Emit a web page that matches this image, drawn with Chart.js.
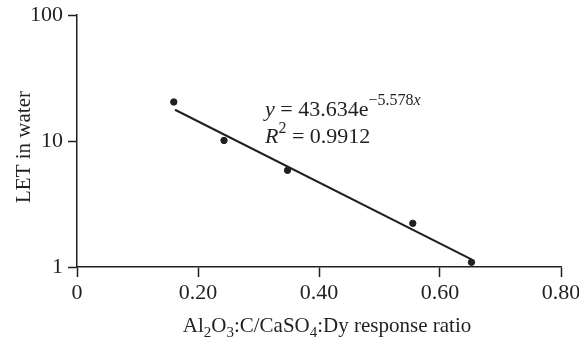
<!DOCTYPE html>
<html>
<head>
<meta charset="utf-8">
<script src="https://cdn.jsdelivr.net/npm/chart.js@4/dist/chart.umd.min.js"></script>
<style>
  html, body { margin: 0; padding: 0; background: #fff; }
  #wrap { width: 579px; height: 340px; }
</style>
</head>
<body>
<div id="wrap"><canvas id="letChart" width="579" height="340"></canvas></div>
<script>
// ==============================
// DATA
// ==============================
const ratioX = [0.160, 0.243, 0.348, 0.555, 0.652];
const letY = [20.4, 10.1, 5.85, 2.22, 1.09];

// fitted line end points (y = 43.634e^-5.578x)
const fitX = [0.162, 0.652];
const fitY = [17.7, 1.149];

const yTicks = [1, 10, 100];
const xTicks = [0, 0.2, 0.4, 0.6, 0.8];

const ink = '#231f20';
const serif = '"Liberation Serif", "DejaVu Serif", serif';

// ==============================
// TEXT PLUGIN (titles + equation)
// ==============================
function drawRuns(ctx, x, y, runs) {
    runs.forEach(r => {
        ctx.font = (r.italic ? 'italic ' : '') + r.size + 'px ' + serif;
        ctx.fillText(r.text, x, y + (r.dy || 0));
        x += ctx.measureText(r.text).width;
    });
    return x;
}

function runsWidth(ctx, runs) {
    let w = 0;
    runs.forEach(r => {
        ctx.font = (r.italic ? 'italic ' : '') + r.size + 'px ' + serif;
        w += ctx.measureText(r.text).width;
    });
    return w;
}

const textPlugin = {
    id: 'textPlugin',
    afterDraw(chart) {
        const ctx = chart.ctx;
        ctx.save();
        ctx.fillStyle = ink;
        ctx.textBaseline = 'alphabetic';
        ctx.textAlign = 'left';

        // equation
        drawRuns(ctx, 265, 116, [
            { text: 'y', italic: true, size: 22 },
            { text: ' = 43.634e', size: 22 },
            { text: '\u22125.578', size: 16, dy: -11 },
            { text: 'x', italic: true, size: 16, dy: -11 }
        ]);
        drawRuns(ctx, 265, 143, [
            { text: 'R', italic: true, size: 22 },
            { text: '2', size: 16, dy: -10 },
            { text: ' = 0.9912', size: 22 }
        ]);

        // x axis title with subscripts
        const xRuns = [
            { text: 'Al', size: 21 },
            { text: '2', size: 15, dy: 5 },
            { text: 'O', size: 21 },
            { text: '3', size: 15, dy: 5 },
            { text: ':C/CaSO', size: 21 },
            { text: '4', size: 15, dy: 5 },
            { text: ':Dy response ratio', size: 21 }
        ];
        const w = runsWidth(ctx, xRuns);
        drawRuns(ctx, 327 - w / 2, 332, xRuns);

        // y axis title
        ctx.translate(30, 147);
        ctx.rotate(-Math.PI / 2);
        ctx.textAlign = 'center';
        ctx.font = '21px ' + serif;
        ctx.fillText('LET in water', 0, 0);
        ctx.restore();
    }
};

// ==============================
// CHART
// ==============================
const ctx = document.getElementById('letChart').getContext('2d');

new Chart(ctx, {
    type: 'scatter',
    data: {
        datasets: [
            {
                label: 'LET',
                data: ratioX.map((x, i) => ({ x: x, y: letY[i] })),
                backgroundColor: ink,
                borderColor: ink,
                pointRadius: 3.2,
                pointHoverRadius: 3.2
            },
            {
                label: 'fit',
                type: 'line',
                data: fitX.map((x, i) => ({ x: x, y: fitY[i] })),
                borderColor: ink,
                borderWidth: 2,
                pointRadius: 0,
                fill: false
            }
        ]
    },
    options: {
        responsive: false,
        animation: false,
        layout: {
            padding: { left: 0, right: 18, top: 15, bottom: 0 }
        },
        plugins: {
            legend: { display: false },
            tooltip: { enabled: false }
        },
        scales: {
            x: {
                type: 'linear',
                min: 0,
                max: 0.8,
                afterBuildTicks: scale => {
                    scale.ticks = xTicks.map(v => ({ value: v }));
                },
                afterFit: scale => {
                    scale.height = 73;
                    scale.paddingLeft = 0;
                    scale.paddingRight = 0;
                },
                grid: {
                    drawOnChartArea: false,
                    drawTicks: true,
                    tickLength: 10,
                    tickWidth: 1.5,
                    color: ink
                },
                border: { display: true, color: ink, width: 1.5 },
                ticks: {
                    color: ink,
                    padding: 3,
                    maxRotation: 0,
                    font: { family: serif, size: 22 },
                    callback: v => v === 0 ? '0' : v.toFixed(2)
                }
            },
            y: {
                type: 'logarithmic',
                min: 1,
                max: 100,
                afterBuildTicks: scale => {
                    scale.ticks = yTicks.map(v => ({ value: v }));
                },
                afterFit: scale => {
                    scale.width = 77;
                    scale.paddingTop = 0;
                    scale.paddingBottom = 0;
                },
                grid: {
                    drawOnChartArea: false,
                    drawTicks: true,
                    tickLength: 9,
                    tickWidth: 1.5,
                    color: ink
                },
                border: { display: true, color: ink, width: 1.5 },
                ticks: {
                    color: ink,
                    padding: 5,
                    font: { family: serif, size: 22 },
                    callback: v => String(v)
                }
            }
        }
    },
    plugins: [textPlugin]
});
</script>
</body>
</html>
